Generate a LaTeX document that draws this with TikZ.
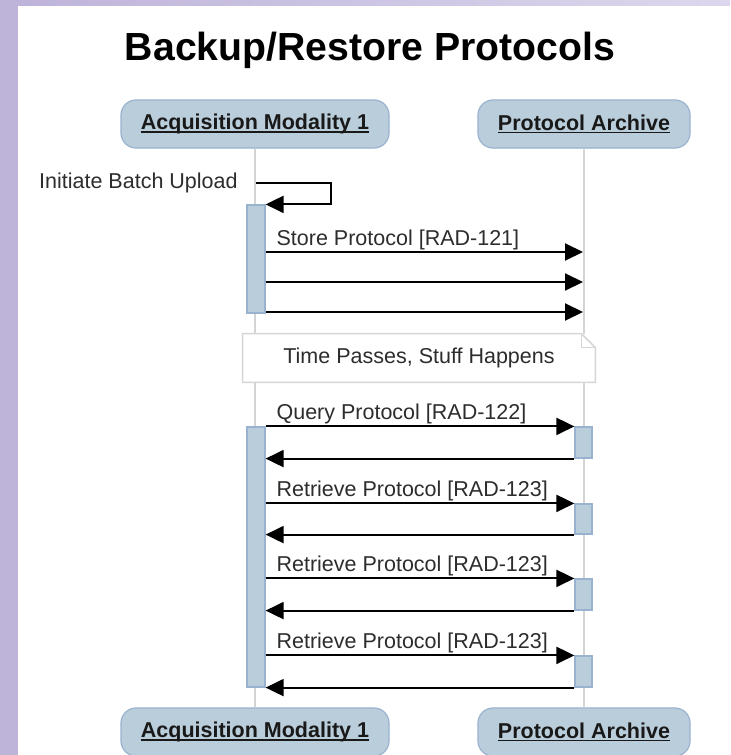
\documentclass[tikz,border=0pt]{standalone}
\usepackage{fontspec}
\setmainfont{Liberation Sans}
\usepackage{xcolor}
\usetikzlibrary{positioning, arrows.meta}
\definecolor{lavender}{RGB}{190,180,218}
\definecolor{lavlight}{RGB}{220,215,237}
\definecolor{boxfill}{RGB}{186,205,218}
\definecolor{boxline}{RGB}{152,178,208}
\definecolor{lifegray}{RGB}{212,212,212}
\definecolor{notegray}{RGB}{214,214,214}
\definecolor{txtgray}{RGB}{45,45,45}
\newcommand{\lblfont}{\fontsize{10.75}{13}\selectfont}
\newcommand{\actorname}[1]{\setbox0\hbox{#1}\rlap{\rule[-1.5pt]{\wd0}{0.8pt}}\box0}

\begin{document}
\begin{tikzpicture}[x = 0.5pt, y = -0.5pt,
        actor/.style = {draw = boxline, fill = boxfill, rounded corners = 7.5pt, line width = 0.6pt, minimum height = 24pt, font = \lblfont\bfseries, text = black!90},
        bar/.style = {draw = boxline, fill = boxfill, line width = 0.6pt, inner sep = 0pt},
        life/.style = {draw = lifegray, line width = 0.75pt},
        msg/.style = {draw = black, line width = 1pt, -{Triangle[length = 9pt, width = 8.5pt]}},
        lbl/.style = {font = \lblfont, text = txtgray, inner sep = 0pt}]
        \useasboundingbox (0, 0) rectangle (730, 755);
        % page background
        \fill [white] (0, 0) rectangle (730, 755);
        \fill [lavender] (0, 0) rectangle (18, 755);
        \shade [left color = lavender, right color = lavlight] (18, 0) rectangle (730, 5);

        \node [font = \fontsize{19.6}{23}\selectfont\bfseries, anchor = base] (title) at (370, 61) {Backup/Restore Protocols};

        \node [actor, minimum width = 134pt] (am) at (255, 124) {\actorname{Acquisition Modality 1}};
        \node [actor, minimum width = 106pt] (pa) at (584, 124) {\actorname{Protocol Archive}};
        \node [actor, minimum width = 134pt] (am2) at (255, 732) {\actorname{Acquisition Modality 1}};
        \node [actor, minimum width = 106pt] (pa2) at (584, 732) {\actorname{Protocol Archive}};
        \draw [life] (am) -- (am2);
        \draw [life] (pa) -- (pa2);

        % activation bars
        \node [bar, minimum width = 9pt, minimum height = 54pt] (b1) at (256, 259) {};
        \node [bar, minimum width = 9pt, minimum height = 130pt] (b2) at (256, 557) {};
        \node [bar, minimum width = 8.5pt, minimum height = 15.5pt] (r1) at (583.5, 442.5) {};
        \node [bar, minimum width = 8.5pt, minimum height = 15pt] (r2) at (583.5, 519) {};
        \node [bar, minimum width = 8.5pt, minimum height = 15.5pt] (r3) at (583.5, 594.5) {};
        \node [bar, minimum width = 8.5pt, minimum height = 15.5pt] (r4) at (583.5, 671.5) {};

        % batch upload
        \coordinate (u) at (256, 183);
        \node [lbl, left = 9pt of u] (lu) {Initiate Batch Upload};
        \draw [msg] (u) -- ++(75, 0) |- (b1.north east);

        \coordinate (s1) at (583, 252);
        \coordinate (s2) at (583, 282);
        \coordinate (s3) at (583, 312);
        \draw [msg] (b1.east |- s1) -- node [lbl, pos = 0, above right = 0.5pt and 5pt] (ls1) {Store Protocol [RAD-121]} (s1);
        \draw [msg] (b1.east |- s2) -- (s2);
        \draw [msg] (b1.east |- s3) -- (s3);

        % note
        \node [lbl, fill = white, minimum width = 176pt, minimum height = 24pt] (tp) at (419, 358) {Time Passes, Stuff Happens};
        \draw [notegray, line width = 0.75pt] (tp.south west) -- (tp.north west) -- ([xshift = -7pt] tp.north east) -- ([yshift = -7pt] tp.north east) -- (tp.south east) -- cycle;
        \draw [notegray, line width = 0.75pt] ([xshift = -7pt] tp.north east) -- ++(0, 14) -- ([yshift = -7pt] tp.north east);

        % query and retrieve
        \draw [msg] (b2.east |- r1.north) -- node [lbl, pos = 0, above right = 0.5pt and 5pt] (lq) {Query Protocol [RAD-122]} (r1.north west);
        \draw [msg] (r1.south west) -- (b2.east |- r1.south);
        \draw [msg] (b2.east |- r2.north) -- node [lbl, pos = 0, above right = 0.5pt and 5pt] (lr2) {Retrieve Protocol [RAD-123]} (r2.north west);
        \draw [msg] (r2.south west) -- (b2.east |- r2.south);
        \draw [msg] (b2.east |- r3.north) -- node [lbl, pos = 0, above right = 0.5pt and 5pt] (lr3) {Retrieve Protocol [RAD-123]} (r3.north west);
        \draw [msg] (r3.south west) -- (b2.east |- r3.south);
        \draw [msg] (b2.east |- r4.north) -- node [lbl, pos = 0, above right = 0.5pt and 5pt] (lr4) {Retrieve Protocol [RAD-123]} (r4.north west);
        \draw [msg] (r4.south west) -- (b2.east |- r4.south);
    \end{tikzpicture}
\end{document}
